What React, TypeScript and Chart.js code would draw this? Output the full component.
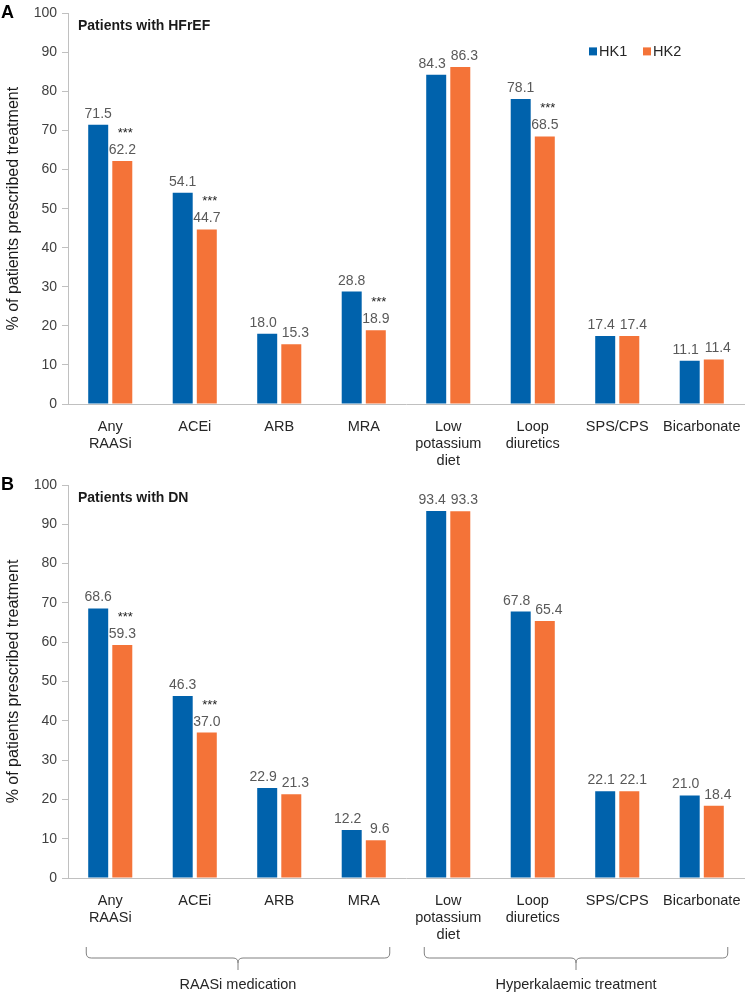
import React, { useEffect, useRef } from "react";
import { Chart, registerables } from "chart.js";

Chart.register(...registerables);

const categories = [
  ["Any", "RAASi"],
  "ACEi",
  "ARB",
  "MRA",
  ["Low", "potassium", "diet"],
  ["Loop", "diuretics"],
  "SPS/CPS",
  "Bicarbonate",
];
const seriesNames = ["HK1", "HK2"];
const hfrefHK1 = [71.5, 54.1, 18.0, 28.8, 84.3, 78.1, 17.4, 11.1];
const hfrefHK2 = [62.2, 44.7, 15.3, 18.9, 86.3, 68.5, 17.4, 11.4];
const hfrefSig = ["***", "***", "", "***", "", "***", "", ""];
const dnHK1 = [68.6, 46.3, 22.9, 12.2, 93.4, 67.8, 22.1, 21.0];
const dnHK2 = [59.3, 37.0, 21.3, 9.6, 93.3, 65.4, 22.1, 18.4];
const dnSig = ["***", "***", "", "", "", "", "", ""];
const yTicks = [0, 10, 20, 30, 40, 50, 60, 70, 80, 90, 100];
const groups = [
  { label: "RAASi medication", from: 0, to: 3 },
  { label: "Hyperkalaemic treatment", from: 4, to: 7 },
];

const BLUE = "#0062ac";
const ORANGE = "#f47338";
const FONT = "'Liberation Sans', Arial, Helvetica, sans-serif";

type PanelProps = {
  letter: string;
  title: string;
  hk1: number[];
  hk2: number[];
  sig: string[];
  height: number;
  xAxisHeight: number;
  padTop: number;
  showLegend: boolean;
  showGroups: boolean;
};

function Panel(props: PanelProps) {
  const ref = useRef<HTMLCanvasElement | null>(null);
  useEffect(() => {
    if (!ref.current) return;
    const annot = {
      id: "annot",
      afterDatasetsDraw(chart: any) {
        const ctx = chart.ctx;
        const area = chart.chartArea;
        ctx.save();
        // value labels
        ctx.font = `14px ${FONT}`;
        ctx.fillStyle = "#595959";
        ctx.textAlign = "center";
        ctx.textBaseline = "alphabetic";
        const m0 = chart.getDatasetMeta(0);
        const m1 = chart.getDatasetMeta(1);
        m0.data.forEach((b0: any, i: number) => {
          const b1: any = m1.data[i];
          const close = Math.abs(b0.y - b1.y) < 12;
          const shift = close ? 4 : 0;
          ctx.fillText(Number(chart.data.datasets[0].data[i]).toFixed(1), b0.x - shift, b0.y - 7);
          ctx.fillText(Number(chart.data.datasets[1].data[i]).toFixed(1), b1.x + shift, b1.y - 7);
        });
        // significance
        ctx.fillStyle = "#222";
        ctx.font = `13px ${FONT}`;
        props.sig.forEach((s, i) => {
          if (!s) return;
          const bar: any = m1.data[i];
          ctx.fillText(s, bar.x + 3, bar.y - 24);
        });
        // panel letter & title
        ctx.textAlign = "left";
        ctx.textBaseline = "middle";
        ctx.fillStyle = "#000";
        ctx.font = `bold 18px ${FONT}`;
        ctx.fillText(props.letter, 1, area.top);
        ctx.font = `bold 14px ${FONT}`;
        ctx.fillStyle = "#1a1a1a";
        ctx.fillText(props.title, area.left + 10, area.top + 13);
        // legend
        if (props.showLegend) {
          const colors = [BLUE, ORANGE];
          const xs = [589, 643];
          ctx.font = `14.5px ${FONT}`;
          seriesNames.forEach((n, k) => {
            ctx.fillStyle = colors[k];
            ctx.fillRect(xs[k], area.top + 34, 8, 8);
            ctx.fillStyle = "#262626";
            ctx.fillText(n, xs[k] + 10, area.top + 38.5);
          });
        }
        // group brackets
        if (props.showGroups) {
          const xs = chart.scales.x;
          const b = area.bottom;
          const top = b + 69;
          const line = b + 80;
          const end = b + 92;
          const r = 5;
          ctx.strokeStyle = "#808080";
          ctx.lineWidth = 1;
          groups.forEach((g) => {
            const x1 = xs.getPixelForValue(g.from) - 24;
            const x2 = xs.getPixelForValue(g.to) + 26;
            const xc = (x1 + x2) / 2;
            ctx.beginPath();
            ctx.moveTo(x1, top);
            ctx.lineTo(x1, line - r);
            ctx.quadraticCurveTo(x1, line, x1 + r, line);
            ctx.lineTo(xc - r, line);
            ctx.quadraticCurveTo(xc, line, xc, line + r);
            ctx.lineTo(xc, end);
            ctx.moveTo(xc, line + r);
            ctx.quadraticCurveTo(xc, line, xc + r, line);
            ctx.lineTo(x2 - r, line);
            ctx.quadraticCurveTo(x2, line, x2, line - r);
            ctx.lineTo(x2, top);
            ctx.stroke();
            ctx.fillStyle = "#262626";
            ctx.font = `14.5px ${FONT}`;
            ctx.textAlign = "center";
            ctx.textBaseline = "middle";
            ctx.fillText(g.label, xc, b + 107);
          });
        }
        ctx.restore();
      },
    };
    const chart = new Chart(ref.current, {
      type: "bar",
      data: {
        labels: categories as any,
        datasets: [
          {
            label: seriesNames[0],
            data: props.hk1,
            backgroundColor: BLUE,
            categoryPercentage: 0.57,
            barPercentage: 0.83,
          },
          {
            label: seriesNames[1],
            data: props.hk2,
            backgroundColor: ORANGE,
            categoryPercentage: 0.57,
            barPercentage: 0.83,
          },
        ],
      },
      options: {
        responsive: false,
        animation: false,
        layout: { padding: { top: props.padTop, right: 4, left: 0, bottom: 0 } },
        plugins: {
          legend: { display: false },
          tooltip: { enabled: false },
          title: { display: false },
        },
        scales: {
          x: {
            grid: { display: false },
            border: { display: true, color: "#c0c0c0", width: 1 },
            ticks: {
              padding: 6,
              color: "#262626",
              font: { family: FONT, size: 14.5, lineHeight: "17px" },
              maxRotation: 0,
              autoSkip: false,
            },
            afterFit: (s: any) => {
              s.height = props.xAxisHeight;
            },
          },
          y: {
            min: 0,
            max: 100,
            afterBuildTicks: (s: any) => {
              s.ticks = yTicks.map((v) => ({ value: v }));
            },
            grid: {
              display: true,
              drawOnChartArea: false,
              drawTicks: true,
              tickLength: 6,
              color: "#c0c0c0",
            },
            border: { display: true, color: "#c0c0c0", width: 1 },
            ticks: {
              padding: 5,
              color: "#404040",
              font: { family: FONT, size: 14 },
            },
            title: {
              display: true,
              text: "% of patients prescribed treatment",
              color: "#1a1a1a",
              font: { family: FONT, size: 16 },
              padding: { top: 4, bottom: 0 },
            },
            afterFit: (s: any) => {
              s.width = 68;
            },
          },
        },
      },
      plugins: [annot],
    });
    return () => chart.destroy();
  }, []);
  return (
    <canvas
      ref={ref}
      width={748}
      height={props.height}
      style={{ display: "block", width: 748, height: props.height }}
    />
  );
}

export default function App() {
  return (
    <div style={{ position: "absolute", top: 0, left: 0, width: 748, height: 996, background: "#fff" }}>
      <Panel
        letter="A"
        title="Patients with HFrEF"
        hk1={hfrefHK1}
        hk2={hfrefHK2}
        sig={hfrefSig}
        height={470}
        xAxisHeight={66}
        padTop={13}
        showLegend={true}
        showGroups={false}
      />
      <Panel
        letter="B"
        title="Patients with DN"
        hk1={dnHK1}
        hk2={dnHK2}
        sig={dnSig}
        height={526}
        xAxisHeight={118}
        padTop={15}
        showLegend={false}
        showGroups={true}
      />
    </div>
  );
}
